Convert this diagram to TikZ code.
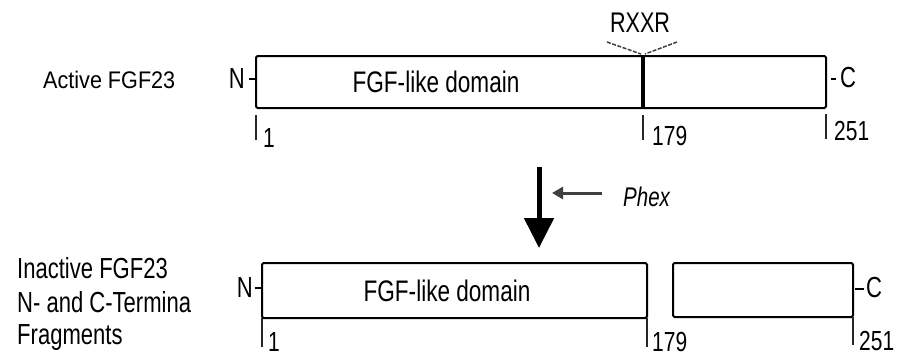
\documentclass[tikz,border=0pt]{standalone}
\usepackage{fontspec}
\setmainfont{Liberation Sans}
\newfontfamily\nf[FakeStretch=0.76]{Liberation Sans}
\newfontfamily\af[FakeStretch=0.9]{Liberation Sans}
\usetikzlibrary{arrows.meta}
\tikzset{
  lbl/.style={inner sep=0pt, font=\nf\fontsize{29}{32}\selectfont},
  num/.style={inner sep=0pt, text depth=0pt, anchor=base west, font=\nf\fontsize{27.6}{30}\selectfont},
  bar/.style={draw, line width=2pt, rounded corners=1.5pt},
  tick/.style={draw, line width=1.6pt, black!85},
}
\begin{document}
\begin{tikzpicture}[x=1pt,y=-1pt]
\useasboundingbox (0,0) rectangle (912,357);
\clip (0,0) rectangle (912,357);
% ---- active FGF23 ----
\node[inner sep=0pt, anchor=base west, font=\af\fontsize{24}{26}\selectfont] (act) at (43,88) {Active FGF23};
\draw[bar] (256,56) rectangle (826,108);
\coordinate (cutT) at (643,55);
\coordinate (cutB) at (643,108);
\draw[line width=3.5pt] (cutT) -- (cutB);
\node[lbl, anchor=base, font=\nf\fontsize{29.7}{32}\selectfont] (dom1) at (436,92) {FGF-like domain};
\node[lbl, anchor=base east] (n1) at (245,88) {N};
\node[lbl, anchor=base west] (c1) at (840,87) {C};
\draw[line width=2pt] (249,79) -- (256,79);
\draw[line width=2pt] (831,79) -- (836,79);
\node[lbl, anchor=base, font=\nf\fontsize{28.4}{30}\selectfont] (rxxr) at (640,32) {RXXR};
\coordinate (rl) at (607,42);
\coordinate (rr) at (677,42);
\coordinate (rm1) at (641,54);
\coordinate (rm2) at (645,54);
\draw[dash pattern=on 4pt off 1.5pt, line width=1.5pt, black!75] (rl) -- (rm1);
\draw[dash pattern=on 4pt off 1.5pt, line width=1.5pt, black!75] (rr) -- (rm2);
\draw[tick] (256,115) -- (256,140);
\draw[tick] (643,115) -- (643,140);
\draw[tick] (826,114) -- (826,139);
\node[num] (t1) at (263,147) {1};
\node[num] (t179) at (652,145) {179};
\node[num] (t251) at (834,140) {251};
% ---- arrows ----
\coordinate (aS) at (539,167);
\coordinate (aE) at (539,248);
\draw[line width=5pt, -{Triangle[width=29pt,length=30pt]}] (aS) -- (aE);
\coordinate (pS) at (602,193);
\coordinate (pE) at (552,193);
\draw[line width=3pt, black!75, -{Triangle[width=12pt,length=11pt]}] (pS) -- (pE);
\node[inner sep=0pt, anchor=base west, font=\nf\itshape\fontsize{27}{30}\selectfont] (phex) at (623,206) {Phex};
% ---- inactive fragments ----
\node[lbl, anchor=base west] (in1) at (17,278) {Inactive FGF23};
\node[lbl, anchor=base west] (in2) at (17,312) {N- and C-Termina};
\node[lbl, anchor=base west] (in3) at (17,344) {Fragments};
\draw[bar] (262,263) rectangle (647,318);
\draw[bar] (673,263) rectangle (853,317);
\node[lbl, anchor=base, font=\nf\fontsize{29.7}{32}\selectfont] (dom2) at (447,301) {FGF-like domain};
\node[lbl, anchor=base east] (n2) at (253,297) {N};
\node[lbl, anchor=base west] (c2) at (866,297) {C};
\draw[line width=2pt] (255,288) -- (262,288);
\draw[line width=2pt] (855,289) -- (864,289);
\draw[tick] (262,318) -- (262,347);
\draw[tick] (647,318) -- (647,347);
\draw[tick] (853,317) -- (853,345);
\node[num] (b1) at (268,351) {1};
\node[num] (b179) at (652,351) {179};
\node[num] (b251) at (859,350) {251};
\end{tikzpicture}
\end{document}
